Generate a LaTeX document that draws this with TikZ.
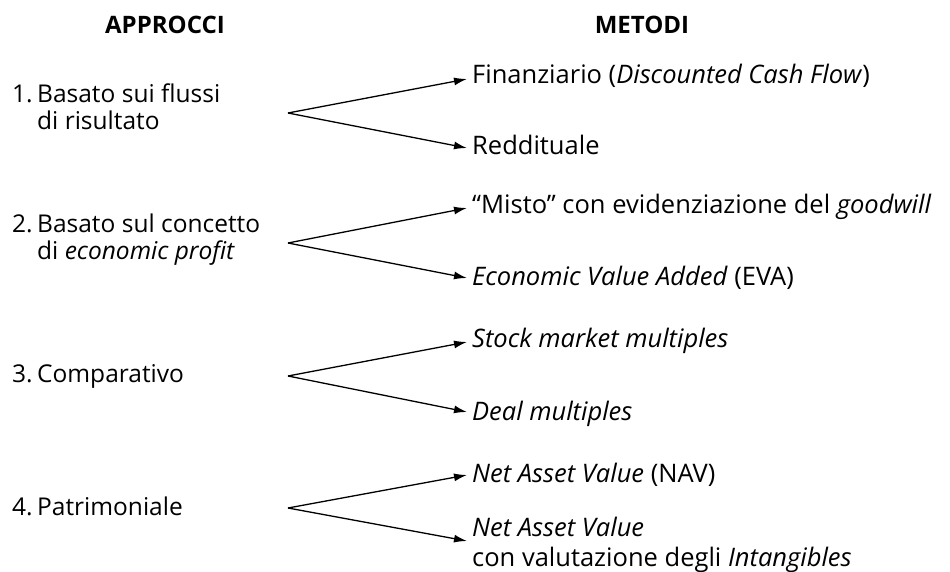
\documentclass[tikz,border=0pt]{standalone}
\usepackage{fontspec}
\setmainfont{Open Sans}
\usetikzlibrary{arrows.meta}
\newcommand{\numlab}[1]{\makebox[25pt][l]{#1}}
\begin{document}
\begin{tikzpicture}[x=1pt,y=-1pt,
  txt/.style={inner sep=0pt,anchor=base west,align=left,font=\fontsize{24.5}{27}\selectfont},
  mtxt/.style={txt,font=\fontsize{25.5}{29}\selectfont},
  head/.style={inner sep=0pt,anchor=base,font=\fontsize{24}{27}\selectfont\bfseries},
  arr/.style={line width=1.3pt,-{Latex[length=13pt,width=8pt]}}]
\path[use as bounding box] (0,0) rectangle (950,572);
\node[head] (h1) at (165,34) {APPROCCI};
\node[head] (h2) at (642,34) {METODI};
% approaches (base anchor = last line)
\node[txt] (a1) at (12,130) {\numlab{1.}Basato sui flussi\\\numlab{}di risultato};
\node[txt] (a2) at (12,259) {\numlab{2.}Basato sul concetto\\\numlab{}di \textit{economic profit}};
\node[txt] (a3) at (12,382) {\numlab{3.}Comparativo};
\node[txt] (a4) at (12,515) {\numlab{4.}Patrimoniale};
% methods
\node[mtxt] (m1) at (472,84) {Finanziario (\textit{Discounted Cash Flow})};
\node[mtxt] (m2) at (472,155) {Reddituale};
\node[mtxt] (m3) at (472,214) {“Misto” con evidenziazione del \textit{goodwill}};
\node[mtxt] (m4) at (472,285) {\textit{Economic Value Added} (EVA)};
\node[mtxt] (m5) at (472,347) {\textit{Stock market multiples}};
\node[mtxt] (m6) at (472,420) {\textit{Deal multiples}};
\node[mtxt] (m7) at (472,482) {\textit{Net Asset Value} (NAV)};
\node[mtxt,font=\fontsize{25.5}{30}\selectfont] (m8) at (472,566) {\textit{Net Asset Value}\\con valutazione degli \textit{Intangibles}};
% fork vertices
\coordinate (v1) at (288,113);
\coordinate (v2) at (288,243);
\coordinate (v3) at (288,376);
\coordinate (v4) at (288,508);
\draw[arr] (v1) -- ([xshift=-5pt,yshift=5pt]m1.base west);
\draw[arr] (v1) -- ([xshift=-5pt,yshift=7pt]m2.base west);
\draw[arr] (v2) -- ([xshift=-5pt,yshift=6pt]m3.base west);
\draw[arr] (v2) -- ([xshift=-5pt,yshift=7pt]m4.base west);
\draw[arr] (v3) -- ([xshift=-5pt,yshift=5pt]m5.base west);
\draw[arr] (v3) -- ([xshift=-5pt,yshift=8pt]m6.base west);
\draw[arr] (v4) -- ([xshift=-5pt,yshift=7pt]m7.base west);
\draw[arr] (v4) -- ([xshift=-5pt,yshift=25pt]m8.base west);
\end{tikzpicture}
\end{document}
